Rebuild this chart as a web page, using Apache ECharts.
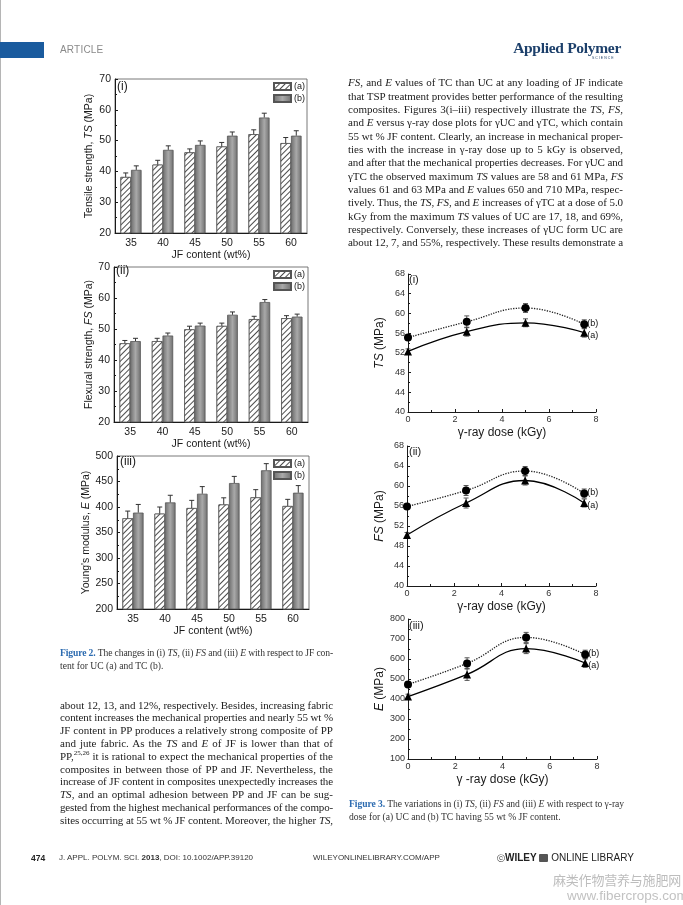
<!DOCTYPE html>
<html>
<head>
<meta charset="utf-8">
<script src="https://cdn.jsdelivr.net/npm/echarts@6/dist/echarts.min.js"></script>
<style>
  html, body { margin:0; padding:0; background:#fff; }
  #page { position:relative; width:683px; height:905px; overflow:hidden; background:#fff; }
  #chart { position:absolute; left:0; top:0; width:683px; height:905px; }
  .ov { position:absolute; color:#222; pointer-events:none; }
  .body { font-family:'Liberation Serif','DejaVu Serif',serif; font-size:11px; }
  .ln { display:block; white-space:nowrap; text-align:left; }
  .ln.j { text-align:justify; text-align-last:justify; }
  .cap { font-family:'Liberation Serif','DejaVu Serif',serif; font-size:9.6px; color:#333; }
  .figlab { color:#2c6bb0; font-weight:bold; }
  .hd { font-family:'Liberation Sans','DejaVu Sans',sans-serif; }
</style>
</head>
<body>
<div id="page">
  <div id="chart"></div>

  <!-- header -->
  <div class="ov" style="left:0;top:0;width:1px;height:905px;background:#b5b5b5"></div>
  <div class="ov" style="left:0;top:42px;width:44px;height:16px;background:#1a5b9e"></div>
  <div class="ov hd" style="left:60px;top:44px;font-size:10px;line-height:12px;color:#8a8a8a;letter-spacing:0.2px">ARTICLE</div>
  <div class="ov" style="left:500px;top:39px;width:121px;text-align:right;font-family:'Liberation Serif','DejaVu Serif',serif;font-weight:bold;font-size:15.5px;line-height:18px;color:#1d406b;letter-spacing:-0.3px">Applied Polymer</div>
  <div class="ov hd" style="left:592px;top:56px;font-size:3.5px;line-height:4px;color:#1d406b;letter-spacing:1px">SCIENCE</div>

  <!-- right column paragraph -->
  <div class="ov body" id="pr" style="left:348px;top:76.3px;width:275px;line-height:13.33px">
    <div class="ln j"><i>FS</i>, and <i>E</i> values of TC than UC at any loading of JF indicate</div>
    <div class="ln j">that TSP treatment provides better performance of the resulting</div>
    <div class="ln j">composites. Figures 3(i–iii) respectively illustrate the <i>TS</i>, <i>FS</i>,</div>
    <div class="ln j">and <i>E</i> versus γ-ray dose plots for γUC and γTC, which contain</div>
    <div class="ln j">55 wt % JF content. Clearly, an increase in mechanical proper-</div>
    <div class="ln j">ties with the increase in γ-ray dose up to 5 kGy is observed,</div>
    <div class="ln j">and after that the mechanical properties decreases. For γUC and</div>
    <div class="ln j">γTC the observed maximum <i>TS</i> values are 58 and 61 MPa, <i>FS</i></div>
    <div class="ln j">values 61 and 63 MPa and <i>E</i> values 650 and 710 MPa, respec-</div>
    <div class="ln j">tively. Thus, the <i>TS</i>, <i>FS</i>, and <i>E</i> increases of γTC at a dose of 5.0</div>
    <div class="ln j">kGy from the maximum <i>TS</i> values of UC are 17, 18, and 69%,</div>
    <div class="ln j">respectively. Conversely, these increases of γUC form UC are</div>
    <div class="ln j">about 12, 7, and 55%, respectively. These results demonstrate a</div>
  </div>

  <!-- figure 2 caption -->
  <div class="ov cap" style="left:60px;top:645.5px;width:273px;line-height:13px">
    <div class="ln j"><span class="figlab">Figure 2.</span> The changes in (i) <i>TS</i>, (ii) <i>FS</i> and (iii) <i>E</i> with respect to JF con-</div>
    <div class="ln">tent for UC (a) and TC (b).</div>
  </div>

  <!-- left paragraph -->
  <div class="ov body" style="left:60px;top:698.6px;width:273px;line-height:12.8px">
    <div class="ln j">about 12, 13, and 12%, respectively. Besides, increasing fabric</div>
    <div class="ln j">content increases the mechanical properties and nearly 55 wt %</div>
    <div class="ln j">JF content in PP produces a relatively strong composite of PP</div>
    <div class="ln j">and jute fabric. As the <i>TS</i> and <i>E</i> of JF is lower than that of</div>
    <div class="ln j">PP,<sup style="font-size:7px;line-height:0">25,26</sup> it is rational to expect the mechanical properties of the</div>
    <div class="ln j">composites in between those of PP and JF. Nevertheless, the</div>
    <div class="ln j">increase of JF content in composites unexpectedly increases the</div>
    <div class="ln j"><i>TS</i>, and an optimal adhesion between PP and JF can be sug-</div>
    <div class="ln j">gested from the highest mechanical performances of the compo-</div>
    <div class="ln j">sites occurring at 55 wt % JF content. Moreover, the higher <i>TS</i>,</div>
  </div>

  <!-- figure 3 caption -->
  <div class="ov cap" style="left:349px;top:796.5px;width:275px;line-height:13px">
    <div class="ln j"><span class="figlab">Figure 3.</span> The variations in (i) <i>TS</i>, (ii) <i>FS</i> and (iii) <i>E</i> with respect to γ-ray</div>
    <div class="ln">dose for (a) UC and (b) TC having 55 wt % JF content.</div>
  </div>

  <!-- footer -->
  <div class="ov hd" style="left:31px;top:853px;font-size:8.5px;line-height:10px;font-weight:bold;color:#222">474</div>
  <div class="ov hd" style="left:59px;top:853px;font-size:8px;line-height:10px;color:#333">J. APPL. POLYM. SCI. <b>2013</b>, DOI: 10.1002/APP.39120</div>
  <div class="ov hd" style="left:313px;top:853px;font-size:8px;line-height:10px;color:#333">WILEYONLINELIBRARY.COM/APP</div>
  <div class="ov hd" style="left:497px;top:852px;font-size:10px;line-height:12px;color:#222;white-space:nowrap"><span style="font-size:8px">&#9426;</span><b>WILEY</b> <span style="display:inline-block;width:9px;height:8px;background:#555;border-radius:1px;vertical-align:-1px"></span> ONLINE LIBRARY</div>
  <div class="ov" style="left:553px;top:872px;font-family:'Noto Sans CJK SC',sans-serif;font-size:13px;line-height:15px;color:#bdbdbd;letter-spacing:-0.2px">麻类作物营养与施肥网</div>
  <div class="ov hd" style="left:567px;top:888px;font-size:13.5px;line-height:15px;color:#c2c2c2">www.fibercrops.com</div>
</div>

<script>
// ---------------- data ----------------
const jfContent = ['35', '40', '45', '50', '55', '60'];
// Figure 2 (i) tensile strength (MPa)
const tsUC    = [38.2, 42.2, 46.2, 48.1, 52.1, 49.2];
const tsUCErr = [1.3, 1.4, 1.1, 1.3, 1.4, 1.8];
const tsTC    = [40.5, 47.0, 48.6, 51.6, 57.5, 51.6];
const tsTCErr = [1.3, 1.3, 1.3, 1.2, 1.4, 1.6];
// Figure 2 (ii) flexural strength (MPa)
const fsUC    = [45.4, 46.1, 49.9, 51.0, 53.2, 53.5];
const fsUCErr = [0.9, 0.9, 1.0, 0.9, 0.9, 0.8];
const fsTC    = [46.1, 47.9, 51.1, 54.6, 58.7, 54.0];
const fsTCErr = [0.9, 0.8, 0.8, 0.9, 0.8, 0.8];
// Figure 2 (iii) Young's modulus (MPa)
const eUC     = [378, 387, 398, 405, 419, 402];
const eUCErr  = [14, 13, 15, 13, 15, 13];
const eTC     = [389, 409, 426, 447, 472, 428];
const eTCErr  = [16, 14, 14, 13, 13, 14];

// Figure 3: gamma-ray dose (kGy)
const doses = [0, 2.5, 5, 7.5];
const tsGUC = [52.3, 56.3, 58.1, 56.1];
const tsGUCErr = [0.5, 0.9, 0.8, 0.9];
const tsGTC = [55.1, 58.3, 61.1, 57.8];
const tsGTCErr = [0.5, 1.2, 0.9, 0.9];
const fsGUC = [50.2, 56.6, 61.1, 56.6];
const fsGUCErr = [0.5, 1.0, 0.9, 0.8];
const fsGTC = [55.9, 59.1, 63.0, 58.5];
const fsGTCErr = [0.5, 1.0, 0.9, 0.9];
const eGUC = [412, 523, 652, 580];
const eGUCErr = [12, 30, 25, 22];
const eGTC = [473, 578, 708, 622];
const eGTCErr = [12, 28, 25, 22];

// --------------- helpers ---------------
const F = "'Liberation Sans', Arial, sans-serif";
const INK = '#1a1a1a';

function fitLines() {
  document.querySelectorAll('.ln').forEach(el => {
    const target = el.parentElement.clientWidth;
    el.style.display = 'inline-block';
    const nat = el.getBoundingClientRect().width;
    el.style.display = '';
    if (nat > target) {
      const n = el.textContent.length;
      el.style.letterSpacing = ((target - nat) / n) + 'px';
    }
  });
}
fitLines();

const hatch = {
  symbol: 'rect', symbolSize: 1, color: '#4d4d4d', backgroundColor: '#ffffff',
  dashArrayX: [1, 0], dashArrayY: [1, 2.2], rotation: -Math.PI / 4
};
const greyGrad = new echarts.graphic.LinearGradient(0, 0, 1, 0, [
  { offset: 0, color: '#6e6e6e' }, { offset: 0.5, color: '#a9a9a9' }, { offset: 1, color: '#6e6e6e' }
]);
const BARW = 0.33;

function barErr(sign) {
  return function (params, api) {
    const k = api.value(0), v = api.value(1), e = api.value(2);
    const band = api.size([1, 0])[0];
    const dx = sign * band * BARW / 2;
    const p0 = api.coord([k, v]);
    const p1 = api.coord([k, v + e]);
    const x = p0[0] + dx;
    return {
      type: 'group', children: [
        { type: 'line', shape: { x1: x, y1: p0[1], x2: x, y2: p1[1] }, style: { stroke: '#333', lineWidth: 1 } },
        { type: 'line', shape: { x1: x - 2.5, y1: p1[1], x2: x + 2.5, y2: p1[1] }, style: { stroke: '#333', lineWidth: 1 } }
      ]
    };
  };
}
function ptErr(params, api) {
  const x = api.value(0), y = api.value(1), e = api.value(2);
  const a = api.coord([x, y + e]), b = api.coord([x, y - e]);
  return {
    type: 'group', children: [
      { type: 'line', shape: { x1: a[0], y1: a[1], x2: b[0], y2: b[1] }, style: { stroke: '#444', lineWidth: 0.9 } },
      { type: 'line', shape: { x1: a[0] - 2.5, y1: a[1], x2: a[0] + 2.5, y2: a[1] }, style: { stroke: '#444', lineWidth: 0.9 } },
      { type: 'line', shape: { x1: b[0] - 2.5, y1: b[1], x2: b[0] + 2.5, y2: b[1] }, style: { stroke: '#444', lineWidth: 0.9 } }
    ]
  };
}

// --------------- layout ---------------
const grids = [
  { left: 115, top: 79, width: 192, height: 154 },
  { left: 114, top: 267, width: 194, height: 155 },
  { left: 117, top: 456, width: 192, height: 153 },
  { left: 408, top: 274, width: 188, height: 138 },
  { left: 407, top: 446, width: 189, height: 140 },
  { left: 408, top: 619, width: 189, height: 140 }
].map((g, i) => Object.assign(g, i < 3 ? { show: true, borderColor: '#555', borderWidth: 0.8, backgroundColor: 'transparent' } : {}));

function catX(i) {
  return {
    type: 'category', gridIndex: i, data: jfContent,
    axisLine: { lineStyle: { color: INK, width: 1 } },
    axisTick: { inside: true, length: 3, lineStyle: { color: INK } },
    axisLabel: { fontFamily: F, fontSize: 10.5, color: INK, margin: 5 },
    name: 'JF content (wt%)', nameLocation: 'middle', nameGap: 16,
    nameTextStyle: { fontFamily: F, fontSize: 10.5, color: INK }
  };
}
function valY(i, min, max, interval, name, italic, gap) {
  return {
    type: 'value', gridIndex: i, min: min, max: max, interval: interval,
    axisLine: { show: true, lineStyle: { color: INK, width: 1 } },
    axisTick: { show: true, inside: true, length: 3, lineStyle: { color: INK } },
    minorTick: { show: true, splitNumber: 2, length: 2, lineStyle: { color: INK } },
    splitLine: { show: false },
    axisLabel: { fontFamily: F, fontSize: i < 3 ? 10.5 : 9, color: i < 3 ? INK : '#333', margin: i < 3 ? 4 : 3 },
    name: name, nameLocation: 'middle', nameGap: gap,
    nameTextStyle: {
      fontFamily: F, fontSize: i < 3 ? 10.5 : 12, color: INK,
      rich: { i: { fontFamily: F, fontStyle: 'italic', fontSize: i < 3 ? 10.5 : 12, color: INK } }
    }
  };
}
function doseX(i, name) {
  return {
    type: 'value', gridIndex: i, min: 0, max: 8, interval: 2,
    axisLine: { lineStyle: { color: INK, width: 1 } },
    axisTick: { inside: true, length: 3, lineStyle: { color: INK } },
    minorTick: { show: true, splitNumber: 2, length: 2, lineStyle: { color: INK } },
    splitLine: { show: false },
    axisLabel: { fontFamily: F, fontSize: 9, color: '#333', margin: 3 },
    name: name, nameLocation: 'middle', nameGap: 15,
    nameTextStyle: { fontFamily: F, fontSize: 12, color: INK }
  };
}

const series = [];
function addBars(i, ua, uaErr, tb, tbErr) {
  series.push({
    name: '(a)', type: 'bar', xAxisIndex: i, yAxisIndex: i, data: ua,
    barWidth: (BARW * 100) + '%', barGap: '0%',
    itemStyle: { color: '#ffffff', borderColor: '#555', borderWidth: 0.8, decal: hatch },
    emphasis: { disabled: true }
  });
  series.push({
    name: '(b)', type: 'bar', xAxisIndex: i, yAxisIndex: i, data: tb,
    barWidth: (BARW * 100) + '%', barGap: '0%',
    itemStyle: { color: greyGrad, borderColor: '#555', borderWidth: 0.8 },
    emphasis: { disabled: true }
  });
  series.push({
    type: 'custom', xAxisIndex: i, yAxisIndex: i, renderItem: barErr(-1), z: 5,
    data: jfContent.map((c, k) => [k, ua[k], uaErr[k]])
  });
  series.push({
    type: 'custom', xAxisIndex: i, yAxisIndex: i, renderItem: barErr(1), z: 5,
    data: jfContent.map((c, k) => [k, tb[k], tbErr[k]])
  });
}
addBars(0, tsUC, tsUCErr, tsTC, tsTCErr);
addBars(1, fsUC, fsUCErr, fsTC, fsTCErr);
addBars(2, eUC, eUCErr, eTC, eTCErr);

function addDose(i, ua, uaErr, tb, tbErr) {
  series.push({
    type: 'custom', xAxisIndex: i, yAxisIndex: i, renderItem: ptErr, z: 3,
    data: doses.map((d, k) => [d, ua[k], uaErr[k]])
  });
  series.push({
    type: 'custom', xAxisIndex: i, yAxisIndex: i, renderItem: ptErr, z: 3,
    data: doses.map((d, k) => [d, tb[k], tbErr[k]])
  });
  series.push({
    name: 'γUC' + i, type: 'line', xAxisIndex: i, yAxisIndex: i, smooth: 0.45,
    data: doses.map((d, k) => [d, ua[k]]),
    symbol: 'triangle', symbolSize: 8, itemStyle: { color: '#000' },
    lineStyle: { color: '#000', width: 1.3 }, z: 4,
    endLabel: { show: true, formatter: '(a)', fontFamily: F, fontSize: 9, color: '#111', distance: 3, offset: [0, 3] }
  });
  series.push({
    name: 'γTC' + i, type: 'line', xAxisIndex: i, yAxisIndex: i, smooth: 0.45,
    data: doses.map((d, k) => [d, tb[k]]),
    symbol: 'circle', symbolSize: 8, itemStyle: { color: '#000' },
    lineStyle: { color: '#222', width: 1.3, type: 'dotted' }, z: 4,
    endLabel: { show: true, formatter: '(b)', fontFamily: F, fontSize: 9, color: '#111', distance: 3, offset: [0, -1] }
  });
}
addDose(3, tsGUC, tsGUCErr, tsGTC, tsGTCErr);
addDose(4, fsGUC, fsGUCErr, fsGTC, fsGTCErr);
addDose(5, eGUC, eGUCErr, eGTC, eGTCErr);

function legendAt(top) {
  return {
    orient: 'vertical', left: 273, top: top, padding: 0, itemGap: 3,
    itemWidth: 17, itemHeight: 7, icon: 'rect', selectedMode: false,
    textStyle: { fontFamily: F, fontSize: 9, color: INK, padding: [0, 0, 0, -2] },
    data: ['(a)', '(b)']
  };
}
function panel(text, left, top, size) {
  return { type: 'text', left: left, top: top, z: 10,
    style: { text: text, fill: INK, font: size + 'px ' + F } };
}

const option = {
  animation: false,
  backgroundColor: 'transparent',
  grid: grids,
  xAxis: [catX(0), catX(1), catX(2), doseX(3, 'γ-ray dose (kGy)'), doseX(4, 'γ-ray dose (kGy)'), doseX(5, 'γ -ray dose (kGy)')],
  yAxis: [
    valY(0, 20, 70, 10, 'Tensile strength, {i|TS} (MPa)', true, 20),
    valY(1, 20, 70, 10, 'Flexural strength, {i|FS} (MPa)', true, 19),
    valY(2, 200, 500, 50, "Young's modulus, {i|E} (MPa)", true, 23),
    valY(3, 40, 68, 4, '{i|TS} (MPa)', true, 22),
    valY(4, 40, 68, 4, '{i|FS} (MPa)', true, 21),
    valY(5, 100, 800, 100, '{i|E} (MPa)', true, 22)
  ],
  legend: [legendAt(82), legendAt(270), legendAt(459)],
  graphic: [
    panel('(i)', 117, 81, 12),
    panel('(ii)', 116, 265, 12),
    panel('(iii)', 120, 456, 12),
    panel('(i)', 409, 274, 11),
    panel('(ii)', 409, 446, 11),
    panel('(iii)', 409, 620, 11)
  ],
  series: series
};

const chart = echarts.init(document.getElementById('chart'), null, { renderer: 'canvas' });
chart.setOption(option);
</script>
</body>
</html>
